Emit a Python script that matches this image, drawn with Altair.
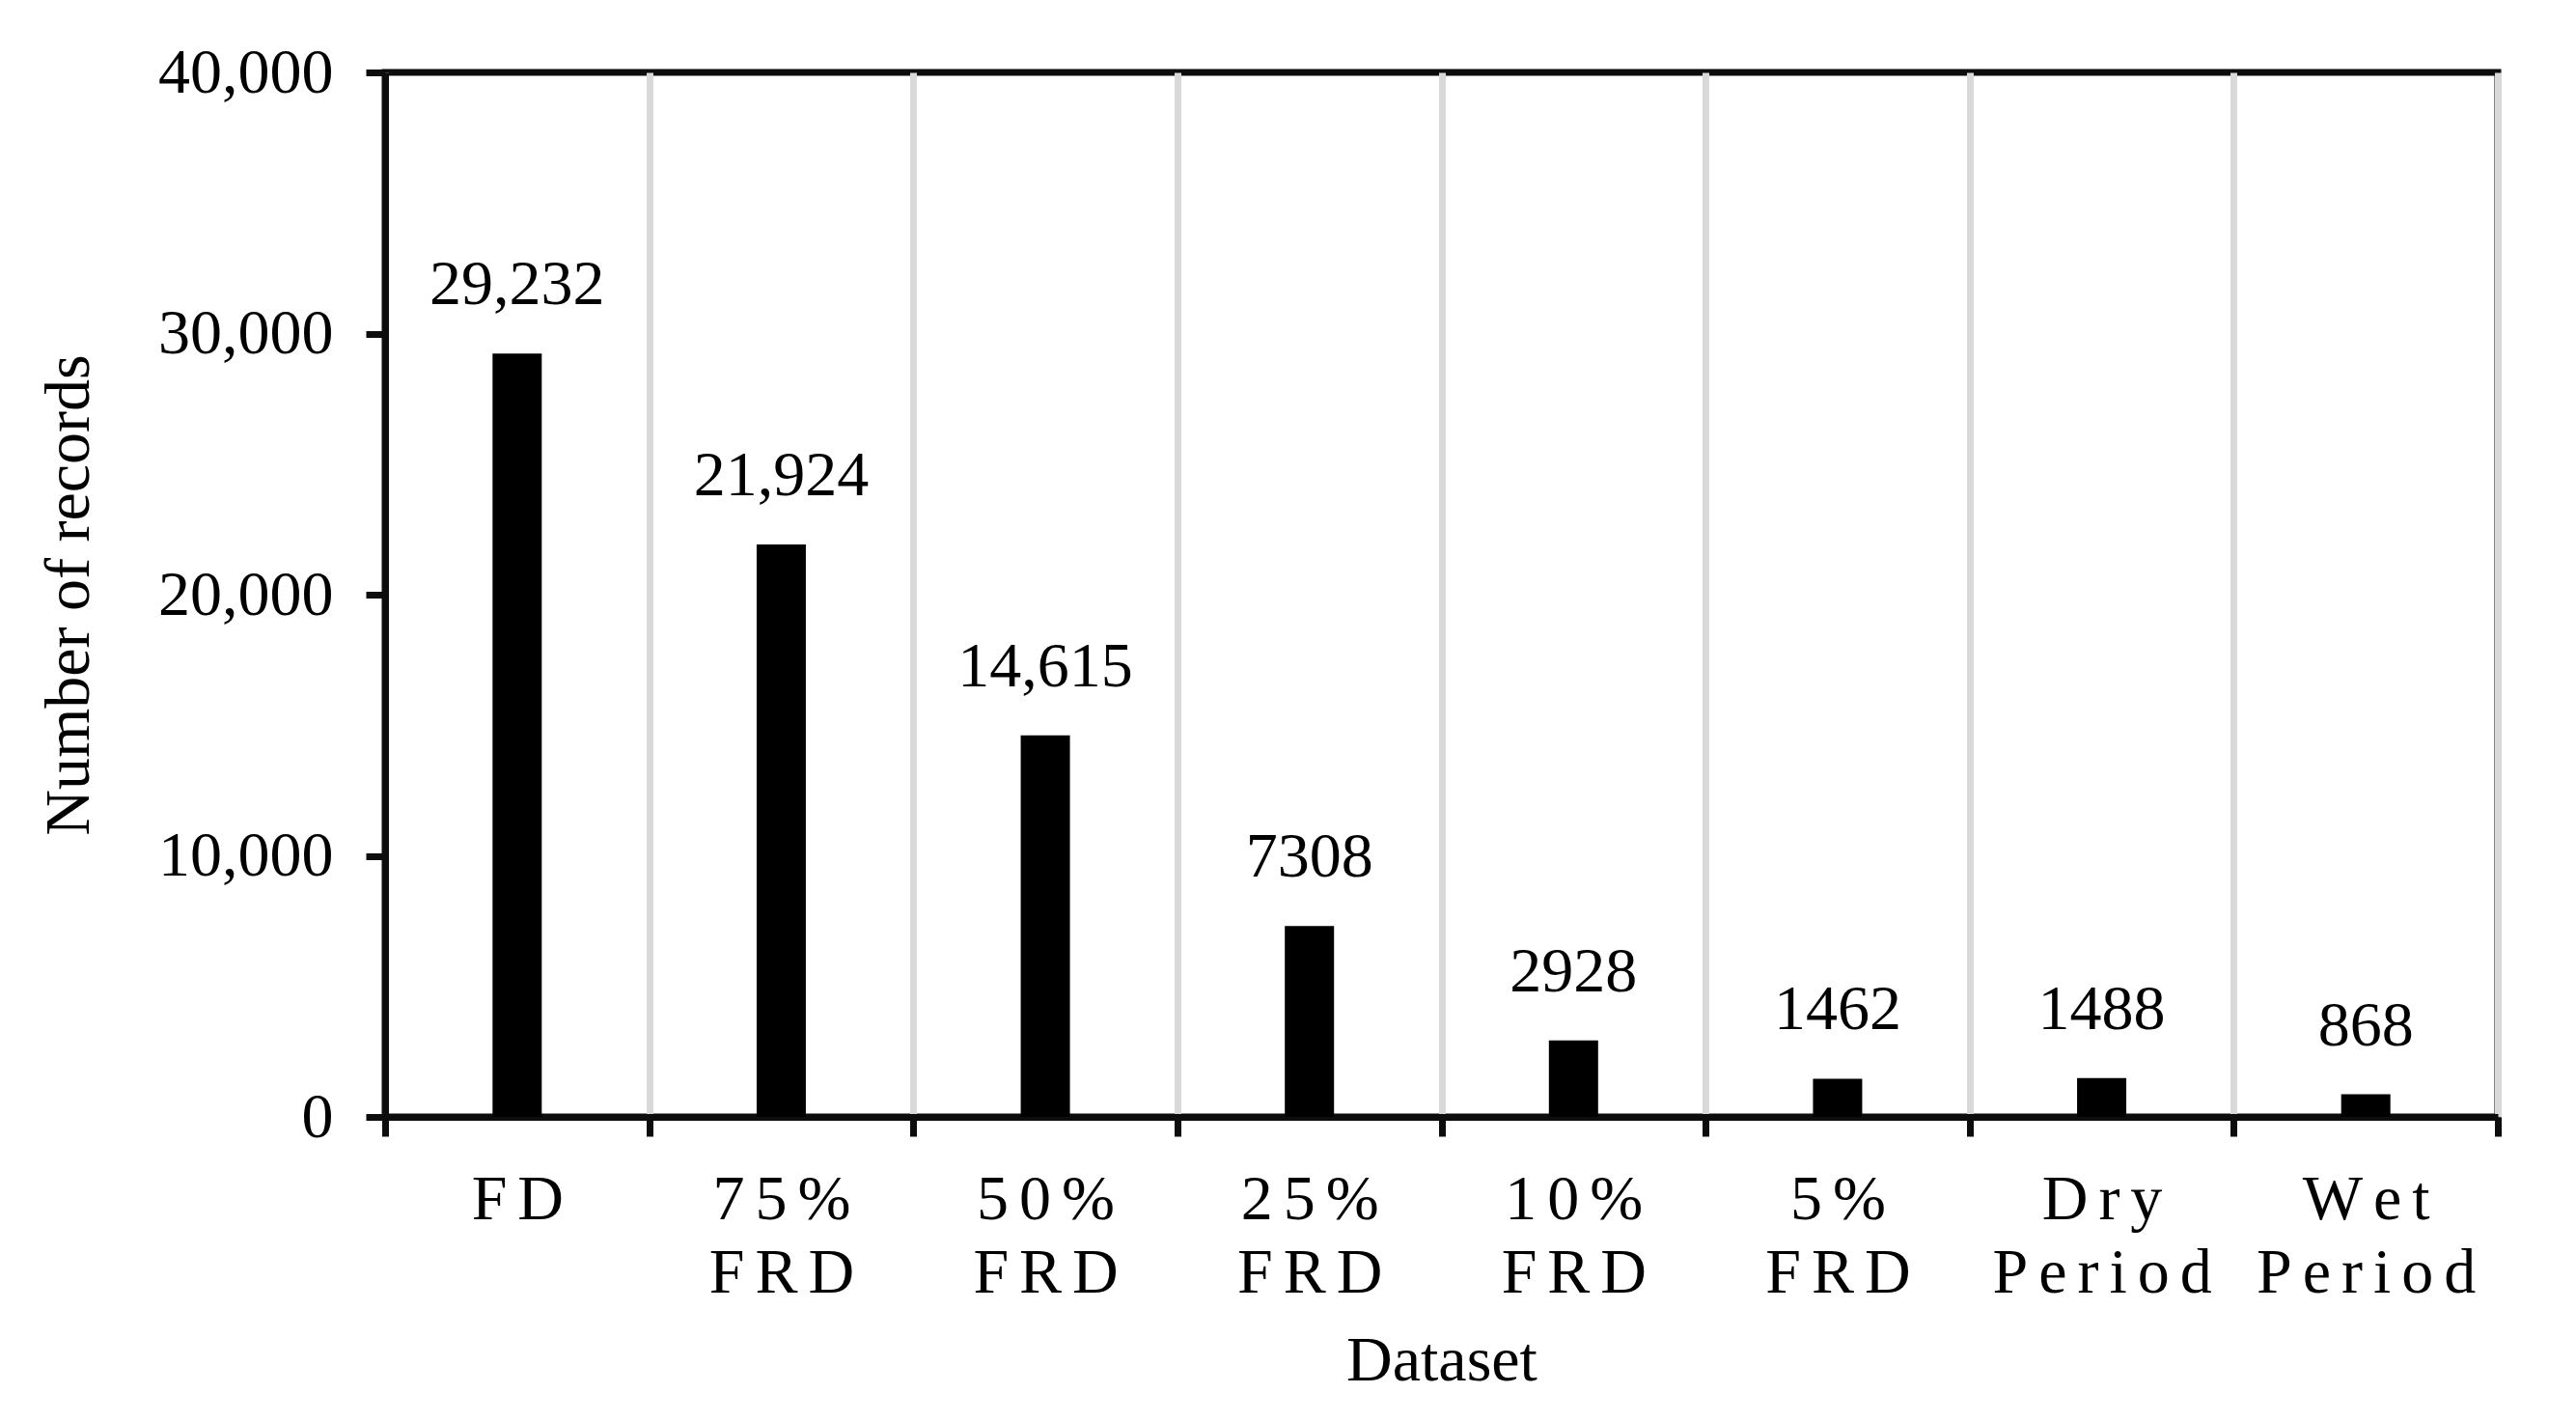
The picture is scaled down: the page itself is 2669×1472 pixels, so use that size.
import altair as alt
import pandas as pd

TS = "\u2006"  # narrow space used for the letter-spaced category labels

categories = ["FD", "75% FRD", "50% FRD", "25% FRD", "10% FRD", "5% FRD", "Dry Period", "Wet Period"]
records = [29232, 21924, 14615, 7308, 2928, 1462, 1488, 868]
value_labels = ["29,232", "21,924", "14,615", "7308", "2928", "1462", "1488", "868"]
y_ticks = [0, 10000, 20000, 30000, 40000]


def spaced(cat):
    lines = cat.split(" ")
    return "|".join(TS.join(list(line)) for line in lines)


df = pd.DataFrame({
    "Dataset": [spaced(c) for c in categories],
    "Records": records,
    "Label": value_labels,
})
order = list(df["Dataset"])

FONT = "Liberation Serif"
INK = "#0d0d0d"

x = alt.X(
    "Dataset:N",
    sort=order,
    scale=alt.Scale(paddingInner=0, paddingOuter=0),
    axis=alt.Axis(
        title="Dataset",
        labelAngle=0,
        labelExpr="split(datum.label, '|')",
        labelLineHeight=76,
        labelPadding=33,
        tickBand="extent",
        grid=True,
        gridColor="#d9d9d9",
        gridWidth=7,
        titlePadding=26,
    ),
)
y = alt.Y(
    "Records:Q",
    scale=alt.Scale(domain=[0, 40000], nice=False),
    axis=alt.Axis(
        title="Number of records",
        values=y_ticks,
        format=",d",
        grid=False,
        labelPadding=34,
        titlePadding=94,
    ),
)

base = alt.Chart(df).encode(x=x, y=y)
bars = base.mark_bar(size=51, color="black")
text = base.mark_text(
    dy=-51, baseline="alphabetic", fontSize=66, font=FONT, color="black"
).encode(text="Label:N")

chart = (
    alt.layer(bars, text)
    .properties(
        width=2189,
        height=1082,
        background="white",
        padding={"left": 30, "top": 34, "right": 60, "bottom": 20},
    )
    .configure_view(stroke=INK, strokeWidth=7)
    .configure_axis(
        labelFont=FONT,
        titleFont=FONT,
        labelFontSize=66,
        titleFontSize=66,
        titleFontWeight="normal",
        labelColor="black",
        titleColor="black",
        labelLimit=0,
        domainColor=INK,
        domainWidth=7,
        tickColor=INK,
        tickWidth=7,
        tickSize=20,
    )
)

chart.save("out.html", embed_options={"renderer": "svg", "actions": False})
